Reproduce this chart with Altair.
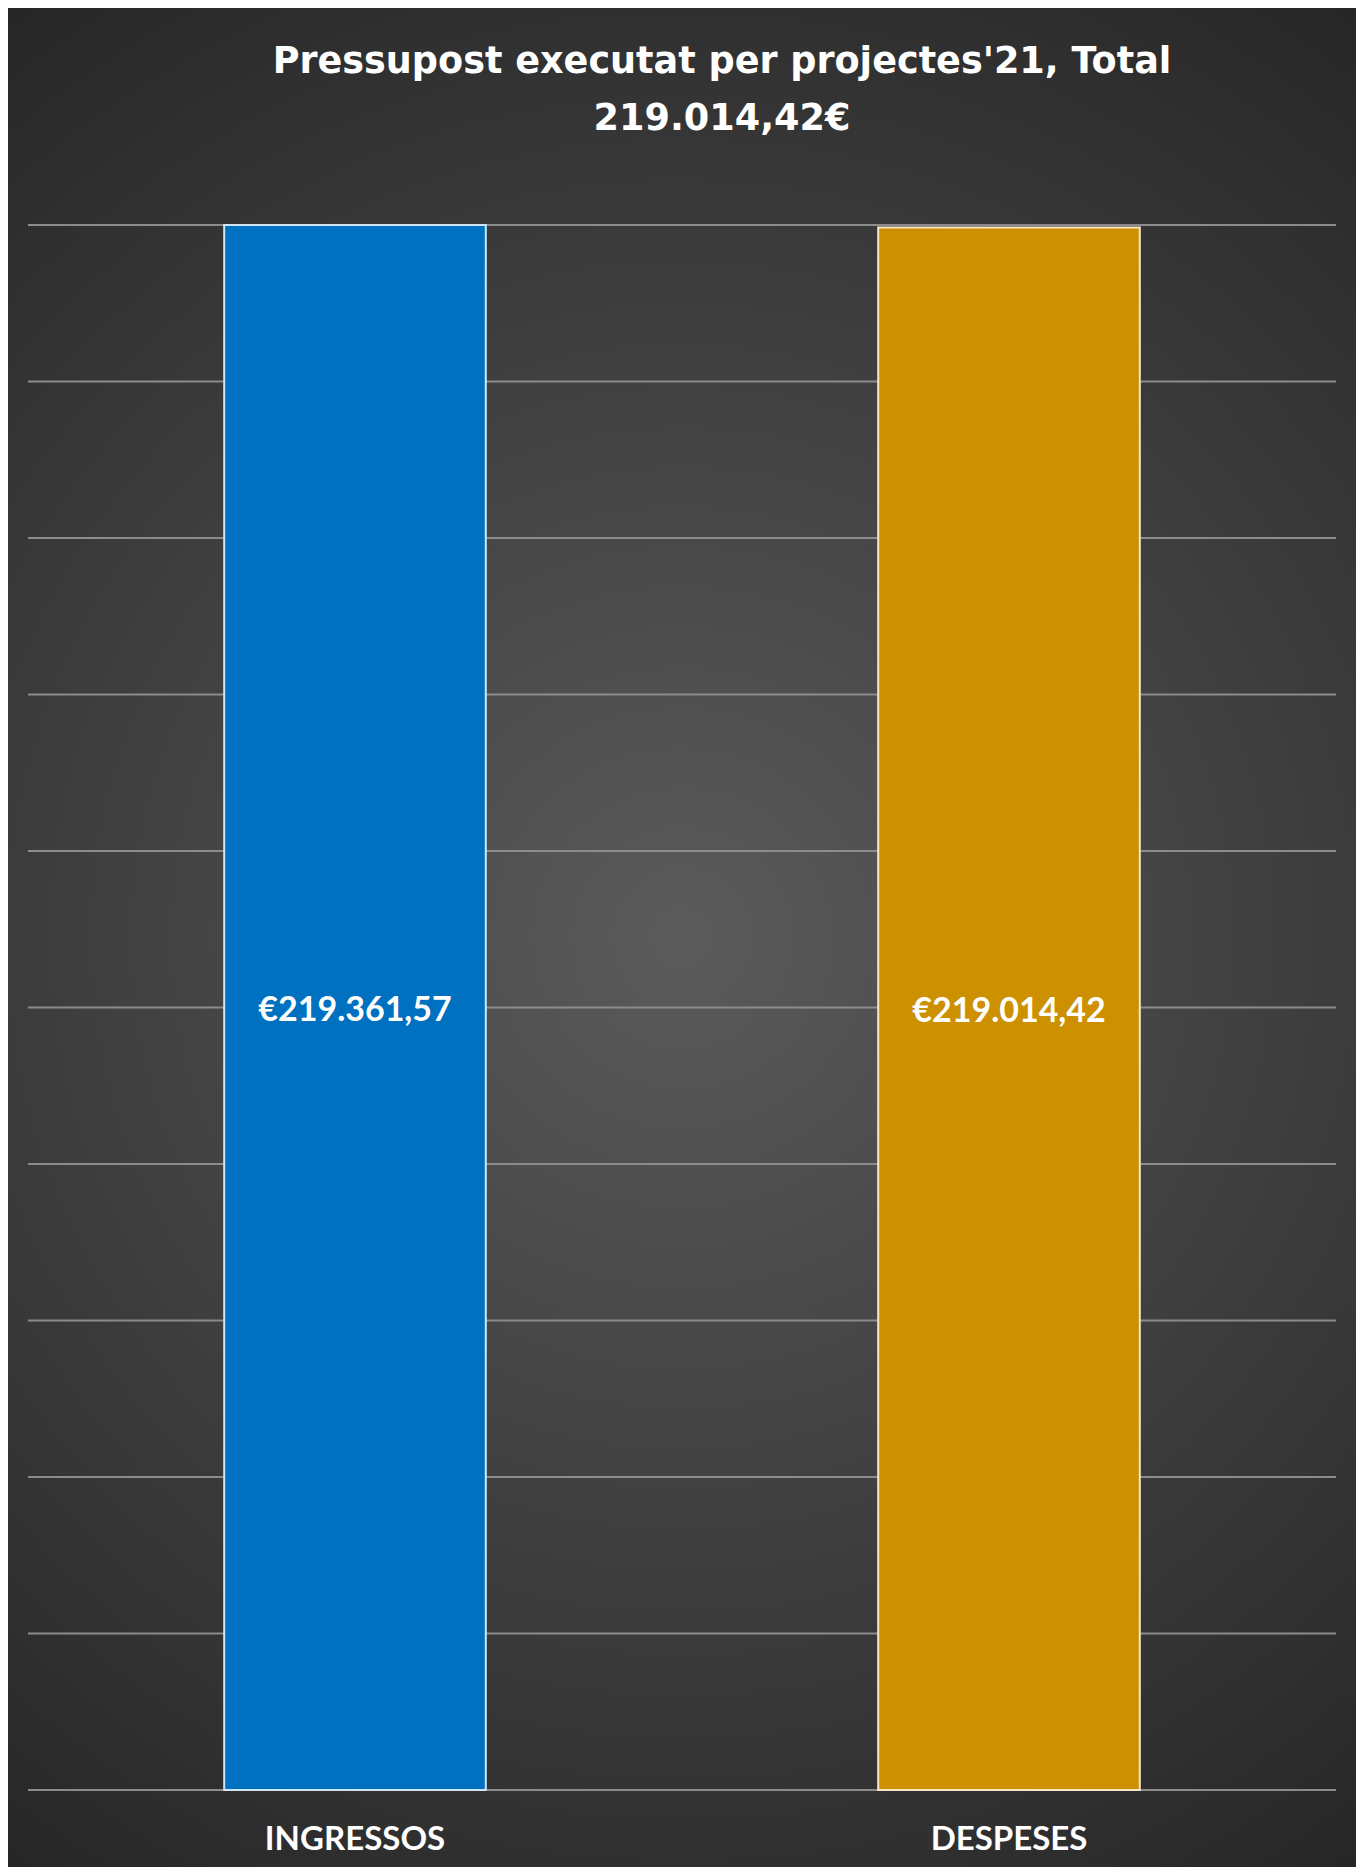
import altair as alt
import pandas as pd

categories = ["INGRESSOS", "DESPESES"]
values = [219361.57, 219014.42]
value_labels = ["€219.361,57", "€219.014,42"]
bar_colors = ["#0070C0", "#CC9000"]
bar_strokes = ["#CFE6F7", "#F7E7C6"]
title_lines = ["Pressupost executat per projectes'21, Total", "219.014,42€"]

GRID_LINES = 11
y_max = max(values)

W, H = 1308, 1565
PAD_L, PAD_T, PAD_R, PAD_B = 20, 217, 20, 77

df = pd.DataFrame({"cat": categories, "value": values, "label": value_labels,
                   "color": bar_colors, "stroke": bar_strokes})
grid_df = pd.DataFrame({"g": [y_max * i / (GRID_LINES - 1) for i in range(GRID_LINES)]})
one_df = pd.DataFrame({"a": [0]})

x_scale = alt.Scale(paddingInner=0.6, paddingOuter=0.3)
x_enc = alt.X("cat:N", sort=categories, scale=x_scale,
              axis=alt.Axis(title=None, domain=False, ticks=False, tickSize=0,
                            labelAngle=0, labelFont="Lato", labelFontWeight="bold",
                            labelFontSize=33, labelColor="#FFFFFF", labelPadding=33,
                            labelLimit=0, grid=False, zindex=2))
y_scale = alt.Scale(domain=[0, y_max], nice=False, zero=True)

background = alt.Chart(one_df).mark_rect(
    color=alt.RadialGradient(
        gradient="radial",
        stops=[alt.GradientStop(color="#5B5B5B", offset=0),
               alt.GradientStop(color="#404040", offset=0.5),
               alt.GradientStop(color="#262626", offset=1)],
        x1=0.5, y1=0.5, r1=0, x2=0.5, y2=0.5, r2=0.62),
).encode(x=alt.value(-PAD_L), x2=alt.value(W + PAD_R),
         y=alt.value(-PAD_T), y2=alt.value(H + PAD_B))

title = alt.Chart(one_df).mark_text(
    font="DejaVu Sans", fontWeight="bold", fontSize=36.6, color="#FFFFFF",
    align="center", baseline="alphabetic", lineHeight=57,
).encode(x=alt.value(694), y=alt.value(-152), text=alt.value(title_lines))

grid = alt.Chart(grid_df).mark_rule(color="#8C8C8C", strokeWidth=2).encode(
    y=alt.Y("g:Q", scale=y_scale, axis=None),
    x=alt.value(0), x2=alt.value(W))

bars = alt.Chart(df).mark_bar(strokeWidth=2).encode(
    x=x_enc,
    y=alt.Y("value:Q", scale=y_scale, axis=None),
    color=alt.Color("color:N", scale=None),
    stroke=alt.Stroke("stroke:N", scale=None))

texts = alt.Chart(df).transform_calculate(half="datum.value / 2").mark_text(
    font="Lato", fontWeight="bold", fontSize=34, color="#FFFFFF", baseline="middle", dy=3
).encode(
    x=alt.X("cat:N", sort=categories, scale=x_scale),
    y=alt.Y("half:Q", scale=y_scale),
    text="label:N")

chart = alt.layer(background, title, grid, bars, texts).properties(
    width=W, height=H,
    padding={"left": PAD_L, "top": PAD_T, "right": PAD_R, "bottom": PAD_B},
    autosize=alt.AutoSizeParams(type="none"),
    background="#262626",
).configure_view(stroke=None)

chart.save("out.html", embed_options={"renderer": "svg", "actions": False})
